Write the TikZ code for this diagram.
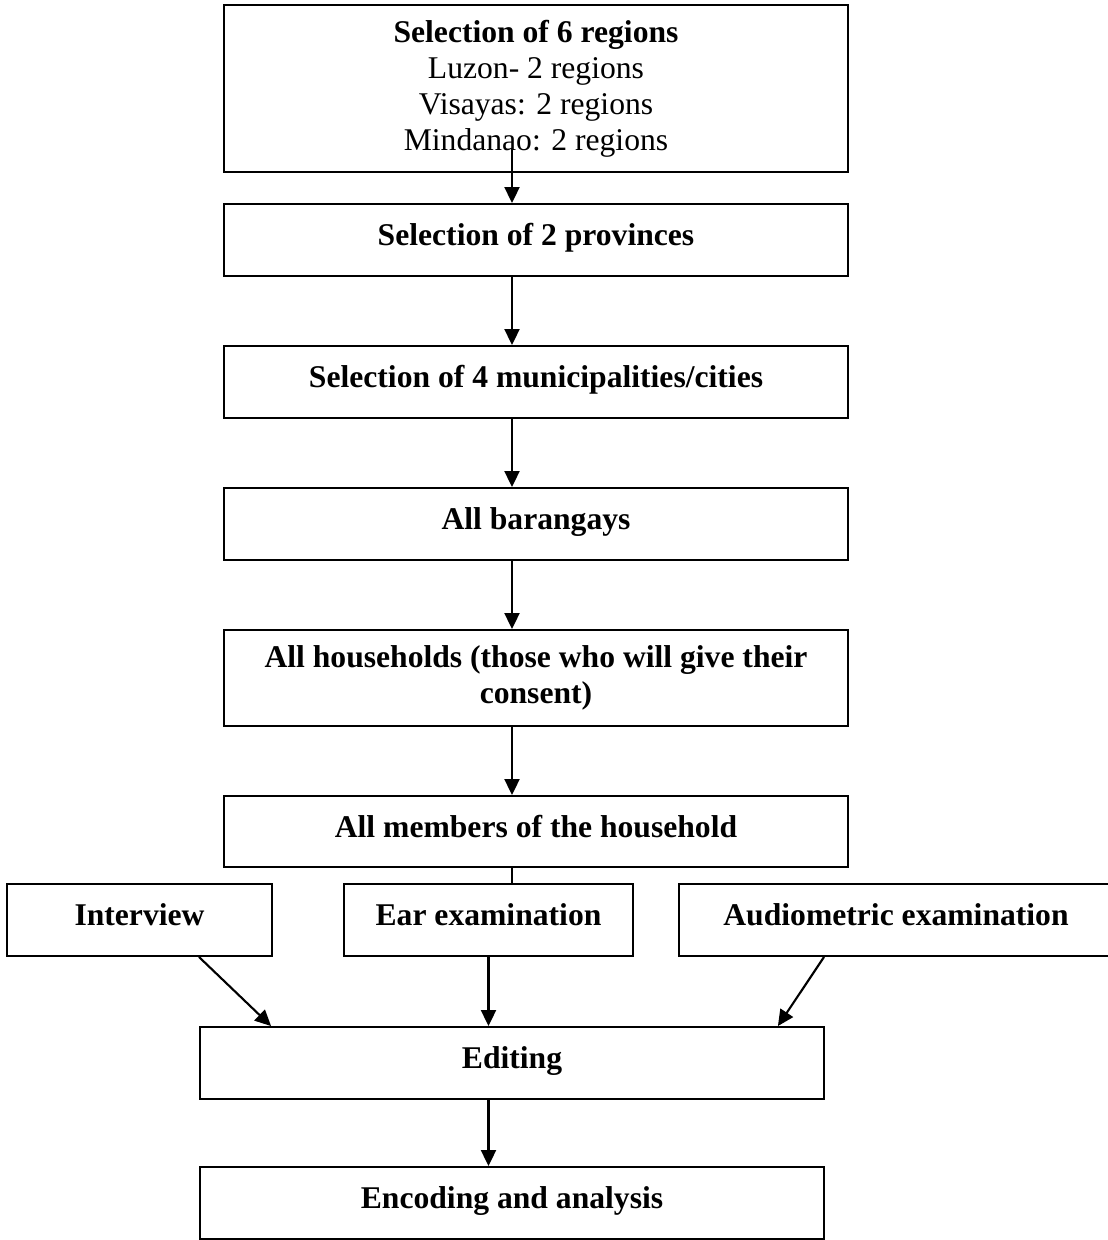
\documentclass[tikz,border=0pt]{standalone}
\usepackage{fontspec}
\setmainfont{Liberation Serif}
\usetikzlibrary {arrows.meta}
\usetikzlibrary{calc}

\begin{document}
\begin{tikzpicture}[x=0.02cm, y=-0.02cm,
	stage/.style={draw, line width=1.1pt, align=center, inner sep=0pt, minimum width=12.48cm, minimum height=1.44cm, font=\fontsize{18}{20.5}\selectfont\bfseries},
	oneline/.style={text height=0.46cm, text depth=0.24cm},
	flow/.style={line width=1.2pt, -{Triangle[length=0.32cm, width=0.3cm]}}]
	\useasboundingbox (0, 0) rectangle (1107, 1240);
	\coordinate (spine) at (512, 0);

	\node[stage, minimum height=3.34cm, font=\fontsize{18}{20.5}\selectfont] (regions) at (536, 88.5) {\textbf{Selection of 6 regions}\\ Luzon- 2 regions\\ Visayas: 2 regions\\ Mindanao: 2 regions};
	\node[stage, oneline] (provinces) at (536, 240) {Selection of 2 provinces};
	\node[stage, oneline] (municipalities) at (536, 382) {Selection of 4 municipalities/cities};
	\node[stage, oneline] (barangays) at (536, 524) {All barangays};
	\node[stage, minimum height=1.92cm] (households) at (536, 678) {All households (those who will give their\\ consent)};
	\node[stage, oneline, minimum height=1.42cm] (members) at (536, 831.5) {All members of the household};

	\node[stage, oneline, minimum width=5.3cm] (interview) at (139.5, 920) {Interview};
	\node[stage, oneline, minimum width=5.78cm] (ear) at (488.5, 920) {Ear examination};
	\node[stage, oneline, minimum width=8.68cm] (audio) at (896, 920) {Audiometric examination};

	\node[stage, oneline] (editing) at (512, 1063) {Editing};
	\node[stage, oneline] (encoding) at (512, 1203) {Encoding and analysis};

	\draw[flow] ($(regions.south -| spine) + (0, -25)$) -- (provinces.north -| spine);
	\foreach \from/\to in {provinces/municipalities, municipalities/barangays, barangays/households, households/members}
		\draw[flow] (\from.south -| spine) -- (\to.north -| spine);
	\draw[line width=1.2pt] (members.south -| spine) -- (ear.north -| spine);

	\draw[flow] ([xshift=1.19cm]interview.south) -- ([xshift=1.44cm]editing.north west);
	\draw[flow] (ear.south) -- (editing.north -| ear.south);
	\draw[flow] ([xshift=-1.44cm]audio.south) -- ([xshift=-0.94cm]editing.north east);
	\draw[flow] (editing.south -| ear.south) -- (encoding.north -| ear.south);
\end{tikzpicture}
\end{document}
